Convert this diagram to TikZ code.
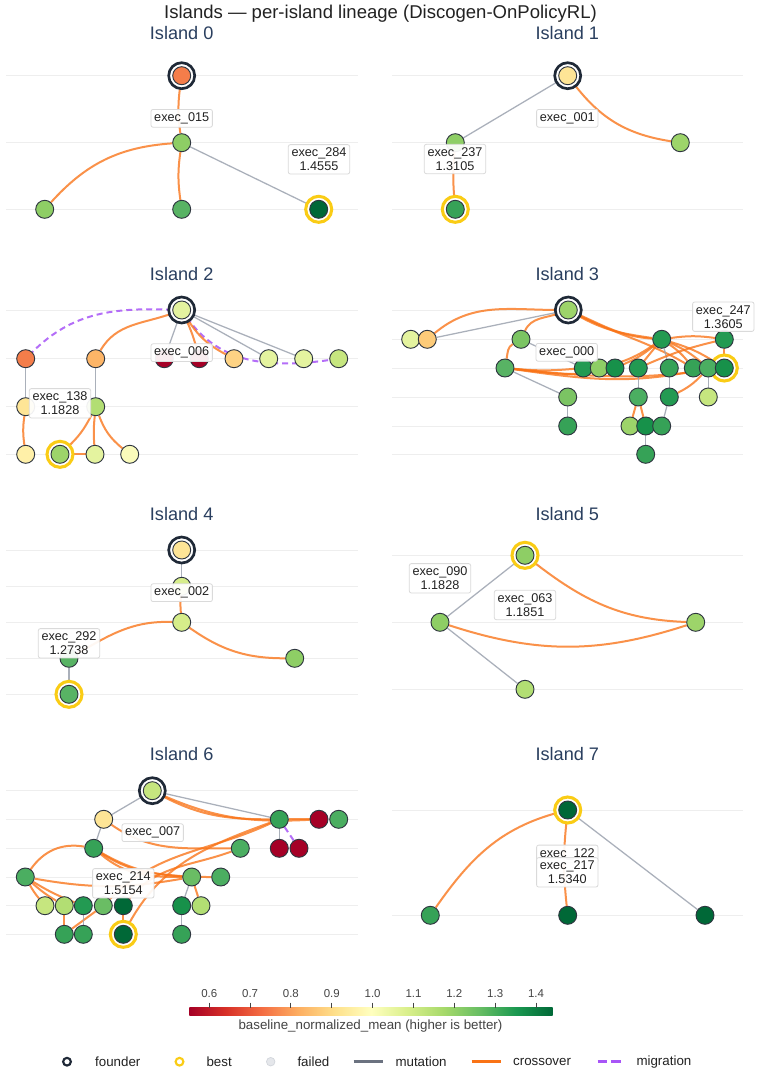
\documentclass[tikz,border=0pt]{standalone}
\usepackage{fontspec}
\setmainfont{Liberation Sans}
\definecolor{cDR}{HTML}{A50026}
\definecolor{cOR}{HTML}{F47D4A}
\definecolor{cLO}{HTML}{FDB567}
\definecolor{cLO2}{HTML}{FDCB79}
\definecolor{cPY}{HTML}{FED384}
\definecolor{cY1}{HTML}{FEE596}
\definecolor{cY2}{HTML}{FFF0A8}
\definecolor{cY3}{HTML}{FAFBBB}
\definecolor{cYG1}{HTML}{E4F39F}
\definecolor{cYG2}{HTML}{D6ED8A}
\definecolor{cYG3}{HTML}{C6E67F}
\definecolor{cLG1}{HTML}{B2DE73}
\definecolor{cLG2}{HTML}{9DD46A}
\definecolor{cLG3}{HTML}{8ECE65}
\definecolor{cLG4}{HTML}{7BC463}
\definecolor{cLG5}{HTML}{6ABD64}
\definecolor{cMG1}{HTML}{58B364}
\definecolor{cMG2}{HTML}{4BAE61}
\definecolor{cMG3}{HTML}{36A257}
\definecolor{cDG1}{HTML}{239A52}
\definecolor{cDG2}{HTML}{17914A}
\definecolor{cDG4}{HTML}{006837}
\definecolor{mutc}{HTML}{9CA3AF}
\definecolor{mutleg}{HTML}{6B7280}
\definecolor{xoc}{HTML}{F97316}
\definecolor{migc}{HTML}{A855F7}
\definecolor{foundc}{HTML}{1F2937}
\definecolor{bestc}{HTML}{FACC15}
\definecolor{ndline}{HTML}{2F3640}
\definecolor{gridc}{HTML}{EEEEEE}
\definecolor{labc}{HTML}{DADADA}
\definecolor{labt}{HTML}{222222}
\definecolor{titc}{HTML}{2A3F5F}
\definecolor{tickt}{HTML}{444444}
\definecolor{failf}{HTML}{E5E7EB}
\definecolor{faild}{HTML}{D1D5DB}
\definecolor{rA}{HTML}{A50026}
\definecolor{rB}{HTML}{D73027}
\definecolor{rC}{HTML}{F46D43}
\definecolor{rD}{HTML}{FDAE61}
\definecolor{rE}{HTML}{FEE08B}
\definecolor{rF}{HTML}{FFFFBF}
\definecolor{rG}{HTML}{D9EF8B}
\definecolor{rH}{HTML}{A6D96A}
\definecolor{rI}{HTML}{66BD63}
\definecolor{rJ}{HTML}{1A9850}
\definecolor{rK}{HTML}{006837}
\pgfdeclarehorizontalshading{rdylgn}{100bp}{color(0bp)=(rA); color(25bp)=(rA); color(30bp)=(rB); color(35bp)=(rC); color(40bp)=(rD); color(45bp)=(rE); color(50bp)=(rF); color(55bp)=(rG); color(60bp)=(rH); color(65bp)=(rI); color(70bp)=(rJ); color(75bp)=(rK); color(100bp)=(rK)}
\pgfdeclarelayer{bgfill}
\pgfdeclarelayer{grid}
\pgfdeclarelayer{edges}
\pgfdeclarelayer{rings}
\pgfdeclarelayer{labels}
\pgfsetlayers{bgfill,grid,edges,rings,main,labels}
\newcommand\mknode[4]{\node[nd,fill=#4] (#1) at (#2,-#3) {};}
\newcommand\foundring[1]{\draw[fring] (#1.center) circle[radius=9.75pt];}
\newcommand\bestring[1]{\draw[bring] (#1.center) circle[radius=9.75pt];}
\begin{document}
\begin{tikzpicture}[x=0.75pt,y=0.75pt,
  nd/.style={circle,draw=ndline,line width=0.7pt,minimum size=13.5pt,inner sep=0pt},
  fring/.style={draw=foundc,fill=white,line width=2pt},
  bring/.style={draw=bestc,fill=white,line width=2.3pt},
  mut/.style={draw=mutc,line width=0.95pt,draw opacity=0.85},
  xo/.style={draw=xoc,line width=1.5pt,draw opacity=0.78},
  mig/.style={draw=migc,line width=1.5pt,draw opacity=0.85,dash pattern=on 4.5pt off 3pt},
  gridl/.style={draw=gridc,line width=0.75pt},
  lab/.style={draw=labc,fill=white,fill opacity=0.93,text opacity=1,line width=0.6pt,rounded corners=1.5pt,
    font=\fontsize{9.5}{10.5}\selectfont,align=center,inner xsep=2.4pt,inner ysep=2.4pt,text=labt},
  isl/.style={font=\fontsize{13.6}{15}\selectfont,text=titc},
  legt/.style={font=\fontsize{10}{12}\selectfont,text=labt,anchor=west}]
\begin{pgfonlayer}{bgfill}
\fill[white] (0,0) rectangle (761,-1076);
\end{pgfonlayer}
\useasboundingbox (0,0) rectangle (761,-1076);

% titles
\node[font=\fontsize{13.9}{16}\selectfont,text=labt] (maintitle) at (380.5,-14) {Islands — per-island lineage (Discogen-OnPolicyRL)};
\node[isl] (t0) at (181.7,-33.3) {Island 0};
\node[isl] (t1) at (567.3,-33.3) {Island 1};
\node[isl] (t2) at (181.7,-274) {Island 2};
\node[isl] (t3) at (567.3,-274) {Island 3};
\node[isl] (t4) at (181.7,-514) {Island 4};
\node[isl] (t5) at (567.3,-514) {Island 5};
\node[isl] (t6) at (181.7,-754) {Island 6};
\node[isl] (t7) at (567.3,-754) {Island 7};

% grid
\begin{pgfonlayer}{grid}
\foreach \yy in {75.7,142.7,209.3} {\draw[gridl] (6,-\yy) -- (357.7,-\yy); \draw[gridl] (392,-\yy) -- (743,-\yy);}
\foreach \yy in {310,358.7,406.7,454.3} {\draw[gridl] (6,-\yy) -- (357.7,-\yy);}
\foreach \yy in {310,339.3,368,397,426,454.3} {\draw[gridl] (392,-\yy) -- (743,-\yy);}
\foreach \yy in {550,586.3,622.3,658.3,694.3} {\draw[gridl] (6,-\yy) -- (357.7,-\yy);}
\foreach \yy in {555.3,622.3,689.3} {\draw[gridl] (392,-\yy) -- (743,-\yy);}
\foreach \yy in {790.7,819.3,848.3,877,905.7,934.3} {\draw[gridl] (6,-\yy) -- (357.7,-\yy);}
\foreach \yy in {810,915.3} {\draw[gridl] (392,-\yy) -- (743,-\yy);}
\end{pgfonlayer}

% ---------- Island 0
\mknode{a0}{181.7}{75.7}{cOR}
\mknode{b0}{181.7}{142.7}{cLG3}
\mknode{c0}{44.7}{209.3}{cLG3}
\mknode{d0}{181.7}{209.3}{cMG1}
\mknode{e0}{318.7}{209.3}{cDG4}
% ---------- Island 1
\mknode{f1}{567.7}{75.7}{cY1}
\mknode{g1}{455.3}{142.7}{cLG3}
\mknode{h1}{680.3}{142.7}{cLG2}
\mknode{i1}{455.3}{209.3}{cMG3}
% ---------- Island 2
\mknode{i2f}{181.7}{310}{cYG1}
\mknode{i2a}{25.7}{358.7}{cOR}
\mknode{i2b}{95.7}{358.7}{cLO}
\mknode{i2c}{164.3}{358.7}{cDR}
\mknode{i2d}{199.3}{358.7}{cDR}
\mknode{i2e}{234}{358.7}{cPY}
\mknode{i2g}{268.7}{358.7}{cYG1}
\mknode{i2h}{303.7}{358.7}{cYG1}
\mknode{i2i}{338.7}{358.7}{cYG3}
\mknode{i2j}{25.7}{406.7}{cY1}
\mknode{i2k}{95.7}{406.7}{cLG1}
\mknode{i2l}{25.7}{454.3}{cY2}
\mknode{i2m}{60}{454.3}{cLG2}
\mknode{i2n}{95}{454.3}{cYG1}
\mknode{i2o}{129.7}{454.3}{cY3}
% ---------- Island 3
\mknode{j3f}{568.3}{310}{cLG2}
\mknode{j3a}{410.7}{339.3}{cYG1}
\mknode{j3b}{427.3}{339.3}{cLO2}
\mknode{j3c}{521}{339.3}{cLG4}
\mknode{j3d}{661.7}{339.3}{cDG1}
\mknode{j3e}{724.3}{339.3}{cDG1}
\mknode{j3g}{505}{368}{cMG1}
\mknode{j3h}{583.3}{368}{cDG1}
\mknode{j3i}{599.3}{368}{cLG3}
\mknode{j3j}{615}{368}{cDG2}
\mknode{j3k}{638.3}{368}{cDG1}
\mknode{j3l}{669.3}{368}{cMG3}
\mknode{j3m}{693.3}{368}{cMG3}
\mknode{j3n}{708.3}{368}{cMG2}
\mknode{j3o}{724.3}{368}{cDG2}
\mknode{j3p}{567.7}{397}{cLG4}
\mknode{j3q}{638.3}{397}{cMG2}
\mknode{j3r}{669.3}{397}{cDG1}
\mknode{j3s}{708.3}{397}{cYG3}
\mknode{j3t}{567.7}{426}{cMG3}
\mknode{j3u}{630}{426}{cLG2}
\mknode{j3v}{645.7}{426}{cDG2}
\mknode{j3w}{661.7}{426}{cMG3}
\mknode{j3x}{645.7}{454.3}{cMG3}
% ---------- Island 4
\mknode{k4f}{181.7}{550}{cY1}
\mknode{k4a}{181.7}{586.3}{cYG2}
\mknode{k4b}{181.7}{622.3}{cYG2}
\mknode{k4c}{294.7}{658.3}{cLG3}
\mknode{k4d}{69}{658.3}{cMG1}
\mknode{k4e}{69}{694.3}{cMG1}
% ---------- Island 5
\mknode{l5a}{525}{555.3}{cLG3}
\mknode{l5b}{440}{622.3}{cLG3}
\mknode{l5c}{695.7}{622.3}{cLG2}
\mknode{l5d}{525}{689.3}{cLG1}
% ---------- Island 6
\mknode{m6f}{152.3}{790.7}{cYG3}
\mknode{m6a}{103.7}{819.3}{cY1}
\mknode{m6b}{279.3}{819.3}{cMG3}
\mknode{m6c}{319}{819.3}{cDR}
\mknode{m6d}{338.7}{819.3}{cMG2}
\mknode{m6e}{93.7}{848.3}{cMG3}
\mknode{m6g}{240.3}{848.3}{cMG2}
\mknode{m6h}{279.3}{848.3}{cDR}
\mknode{m6i}{299}{848.3}{cDR}
\mknode{m6j}{25.3}{877}{cMG2}
\mknode{m6k}{191.7}{877}{cLG5}
\mknode{m6l}{220.7}{877}{cMG2}
\mknode{m6m}{45}{905.7}{cYG3}
\mknode{m6n}{64.3}{905.7}{cLG1}
\mknode{m6o}{83.3}{905.7}{cDG1}
\mknode{m6p}{103.3}{905.7}{cLG5}
\mknode{m6q}{123.3}{905.7}{cDG4}
\mknode{m6r}{181.7}{905.7}{cDG2}
\mknode{m6s}{201}{905.7}{cLG1}
\mknode{m6t}{64.3}{934.3}{cMG3}
\mknode{m6u}{83.3}{934.3}{cMG3}
\mknode{m6v}{123.3}{934.3}{cDG4}
\mknode{m6w}{181.7}{934.3}{cMG3}
% ---------- Island 7
\mknode{n7a}{567.7}{810}{cDG4}
\mknode{n7b}{430.3}{915.3}{cMG3}
\mknode{n7c}{567.7}{915.3}{cDG4}
\mknode{n7d}{705}{915.3}{cDG4}

\begin{pgfonlayer}{rings}
\foundring{a0}\bestring{e0}
\foundring{f1}\bestring{i1}
\foundring{i2f}\bestring{i2m}
\foundring{j3f}\bestring{j3o}
\foundring{k4f}\bestring{k4e}
\bestring{l5a}
\foundring{m6f}\bestring{m6v}
\bestring{n7a}
\end{pgfonlayer}

\begin{pgfonlayer}{edges}
% island 0
\draw[xo] (a0) to[bend right=8] (b0);
\draw[xo] (b0) to[bend right=22] (c0);
\draw[xo] (b0) to[bend right=8] (d0);
\draw[mut] (b0) -- (e0);
% island 1
\draw[mut] (f1) -- (g1);
\draw[xo] (f1) to[bend right=22] (h1);
\draw[xo] (g1) to[bend right=5] (i1);
% island 2
\draw[mig] (i2f) to[out=178,in=45] (i2a);
\draw[mig] (i2f) to[out=-55,in=188] (i2i);
\draw[xo] (i2f) to[out=200,in=60] (i2b);
\draw[mut] (i2f) -- (i2c);
\draw[xo] (i2f) to[bend left=5] (i2d);
\draw[xo] (i2f) to[bend right=15] (i2e);
\draw[mut] (i2f) -- (i2g);
\draw[mut] (i2f) -- (i2h);
\draw[mut] (i2a) -- (i2j);
\draw[mut] (i2b) -- (i2k);
\draw[xo] (i2j) to[bend right=8] (i2l);
\draw[xo] (i2k) to[bend left=10] (i2m);
\draw[xo] (i2k) to[bend right=5] (i2n);
\draw[xo] (i2k) to[bend right=15] (i2o);
\draw[xo] (i2m) -- (i2n);
% island 3
\draw[mut] (j3b) -- (j3f);
\draw[xo] (j3b) to[out=40,in=180] (j3f);
\draw[xo] (j3f) to[out=200,in=65] (j3c);
\draw[xo] (j3f) to[out=-30,in=172] (j3d);
\draw[xo] (j3f) to[out=-24,in=176] (j3d);
\draw[xo] (j3f) to[out=-27,in=150] (j3m);
\draw[mut] (j3c) -- (j3h);
\draw[xo] (j3c) to[out=210,in=80] (j3g);
\draw[xo] (j3g) to[bend right=5] (j3h);
\draw[xo] (j3g) to[out=-6,in=192] (j3j);
\draw[xo] (j3g) to[out=-8,in=192] (j3n);
\draw[xo] (j3g) to[out=-6,in=188] (j3o);
\draw[mut] (j3g) -- (j3p);
\draw[mut] (j3p) -- (j3t);
\draw[xo] (j3d) to[bend left=10] (j3i);
\draw[xo] (j3d) to[bend left=8] (j3j);
\draw[xo] (j3d) -- (j3k);
\draw[mut] (j3d) -- (j3l);
\draw[xo] (j3d) to[bend left=8] (j3m);
\draw[xo] (j3d) to[bend left=8] (j3n);
\draw[xo] (j3d) to[bend left=8] (j3o);
\draw[xo] (j3d) to[bend left=8] (j3e);
\draw[xo] (j3e) -- (j3o);
\draw[xo] (j3e) to[bend right=5] (j3k);
\draw[mut] (j3k) -- (j3q);
\draw[xo] (j3q) -- (j3u);
\draw[xo] (j3q) -- (j3v);
\draw[mut] (j3v) -- (j3x);
\draw[mut] (j3l) -- (j3r);
\draw[mut] (j3r) -- (j3w);
\draw[xo] (j3r) to[bend right=10] (j3n);
\draw[mut] (j3n) -- (j3s);
% island 4
\draw[mut] (k4f) -- (k4a);
\draw[xo] (k4a) to[bend right=5] (k4b);
\draw[xo] (k4b) to[out=178,in=30] (k4d);
\draw[xo] (k4b) to[out=-35,in=180] (k4c);
\draw[mut] (k4d) -- (k4e);
% island 5
\draw[mut] (l5a) -- (l5b);
\draw[mut] (l5b) -- (l5d);
\draw[xo] (l5a) to[out=-38,in=178] (l5c);
\draw[xo] (l5b) to[bend right=18] (l5c);
% island 6
\draw[mut] (m6f) -- (m6a);
\draw[mut] (m6f) -- (m6b);
\draw[xo] (m6f) to[out=-28,in=180] (m6b);
\draw[xo] (m6f) to[out=-24,in=183] (m6c);
\draw[xo] (m6b) -- (m6c);
\draw[mut] (m6a) -- (m6e);
\draw[xo] (m6a) to[out=-35,in=180] (m6g);
\draw[mut] (m6b) -- (m6h);
\draw[mig] (m6b) -- (m6i);
\draw[xo] (m6e) to[out=170,in=55] (m6j);
\draw[xo] (m6e) to[out=-40,in=180] (m6k);
\draw[xo] (m6e) to[out=-33,in=175] (m6k);
\draw[xo] (m6e) to[out=-30,in=180] (m6l);
\draw[xo] (m6j) to[bend right=10] (m6k);
\draw[xo] (m6j) to[bend right=5] (m6m);
\draw[xo] (m6j) to[bend right=5] (m6n);
\draw[xo] (m6j) to[bend right=5] (m6o);
\draw[xo] (m6n) -- (m6t);
\draw[xo] (m6t) -- (m6p);
\draw[mut] (m6o) -- (m6u);
\draw[xo] (m6q) -- (m6v);
\draw[xo] (m6v) to[out=62,in=200] (m6b);
\draw[xo] (m6p) to[out=45,in=205] (m6b);
\draw[xo] (m6g) to[out=200,in=50] (m6q);
\draw[mut] (m6k) -- (m6r);
\draw[xo] (m6k) -- (m6s);
\draw[mut] (m6r) -- (m6w);
% island 7
\draw[xo] (n7a) to[out=195,in=55] (n7b);
\draw[xo] (n7a) to[bend right=6] (n7c);
\draw[mut] (n7a) -- (n7d);
\end{pgfonlayer}

\begin{pgfonlayer}{labels}
\node[lab] (L015) at (181.7,-118.3) {exec\_015};
\node[lab] (L284) at (319,-159.3) {exec\_284\\1.4555};
\node[lab] (L001) at (567.3,-118.3) {exec\_001};
\node[lab] (L237) at (455,-159) {exec\_237\\1.3105};
\node[lab] (L006) at (181.7,-352.7) {exec\_006};
\node[lab] (L138) at (60,-403.3) {exec\_138\\1.1828};
\node[lab] (L000) at (566.7,-352.3) {exec\_000};
\node[lab] (L247) at (723.3,-316.7) {exec\_247\\1.3605};
\node[lab] (L002) at (181.7,-592.7) {exec\_002};
\node[lab] (L292) at (69,-643.3) {exec\_292\\1.2738};
\node[lab] (L090) at (440,-578.3) {exec\_090\\1.1828};
\node[lab] (L063) at (525,-605) {exec\_063\\1.1851};
\node[lab] (L007) at (152.7,-832.7) {exec\_007};
\node[lab] (L214) at (123.3,-883.3) {exec\_214\\1.5154};
\node[lab] (L122) at (567.3,-854) {exec\_122};
\node[lab] (L217) at (567.3,-872.3) {exec\_217\\1.5340};
\end{pgfonlayer}

% colorbar
\shade[shading=rdylgn] (189.3,-1007.7) rectangle (552.7,-1015);
\foreach \v/\xx [count=\i] in {0.6/209.3,0.7/250.1,0.8/290.9,0.9/331.8,1.0/372.6,1.1/413.5,1.2/454.3,1.3/495.2,1.4/536} {
  \draw[draw=tickt,line width=0.75pt] (\xx,-1002.5) -- (\xx,-1007.7);
  \node[font=\fontsize{8.6}{10}\selectfont,text=tickt] (cbt\i) at (\xx,-993.3) {\v};
}
\node[font=\fontsize{10}{12}\selectfont,text=tickt] (cbtitle) at (370.5,-1025.7) {baseline\_normalized\_mean (higher is better)};

% legend
\draw[draw=foundc,line width=1.6pt] (67,-1061.7) circle[radius=2.9pt];
\node[legt] (lg1) at (90.5,-1061.7) {founder};
\draw[draw=bestc,line width=1.6pt] (179.5,-1061.7) circle[radius=2.9pt];
\node[legt] (lg2) at (201.8,-1061.7) {best};
\draw[draw=faild,fill=failf,line width=0.5pt] (270.7,-1061.7) circle[radius=3.2pt];
\node[legt] (lg3) at (292.8,-1061.7) {failed};
\draw[draw=mutleg,line width=2pt] (353.7,-1061.7) -- (383,-1061.7);
\node[legt] (lg4) at (390.8,-1061.7) {mutation};
\draw[draw=xoc,line width=2pt] (471.7,-1061.7) -- (501,-1061.7);
\node[legt] (lg5) at (508.5,-1061.7) {crossover};
\draw[draw=migc,line width=2pt,dash pattern=on 7.3pt off 2.6pt] (597.6,-1061.7) -- (620.5,-1061.7);
\node[legt] (lg6) at (631.8,-1061.7) {migration};
\end{tikzpicture}
\end{document}
